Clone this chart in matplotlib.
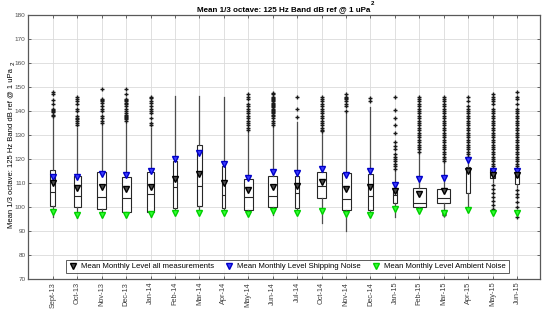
import matplotlib
matplotlib.use("Agg")
import matplotlib.pyplot as plt
from matplotlib.lines import Line2D

plt.rcParams["font.family"] = ["Liberation Sans", "DejaVu Sans"]

months = ["Sept-13", "Oct-13", "Nov-13", "Dec-13", "Jan-14", "Feb-14", "Mar-14",
          "Apr-14", "May-14", "Jun-14", "Jul-14", "Oct-14", "Nov-14", "Dec-14",
          "Jan-15", "Feb-15", "Mar-15", "Apr-15", "May-15", "Jun-15"]

q1 = [100.4, 100.0, 99.0, 98.1, 98.0, 99.7, 100.6, 99.6, 98.8, 99.9,
      99.6, 103.6, 98.8, 98.8, 101.8, 100.1, 101.5, 105.7, 111.9, 109.6]
med = [106.1, 104.6, 104.3, 103.8, 105.3, 108.2, 108.9, 104.9, 104.0, 104.4,
       106.0, 108.8, 103.5, 104.6, 105.0, 101.5, 103.6, 116.1, 113.3, 112.6]
q3 = [115.4, 113.1, 114.4, 112.6, 114.7, 119.3, 125.7, 117.1, 111.8, 112.9,
      113.1, 114.7, 114.0, 113.6, 107.1, 107.8, 107.6, 116.5, 115.7, 114.3]
whis_lo = [95.7, 95.3, 96.0, 96.0, 96.0, 98.0, 98.5, 98.0, 96.5, 96.7,
           97.0, 93.5, 90.0, 96.5, 96.0, 98.0, 98.5, 98.0, 110.5, 108.5]
whis_hi = [137.0, 133.0, 134.0, 135.0, 133.0, 146.2, 146.2, 145.7, 131.4, 133.5,
           135.5, 130.7, 139.0, 141.8, 115.0, 122.4, 118.2, 120.0, 116.5, 116.5]
box_px = [4.7, 6.7, 8.7, 9.0, 7.3, 3.7, 4.3, 3.3, 9.0, 9.0,
          4.0, 9.3, 9.0, 5.3, 3.3, 12.7, 12.7, 4.0, 5.0, 4.3]

outliers = [
    [148, 147, 144.5, 143, 141, 140.5, 140, 139.5, 138.5, 138],
    [146, 145, 144, 143, 141, 140, 138, 137, 136.5, 136, 135, 134],
    [149, 145, 144.5, 144, 143.5, 142, 141, 140, 138, 137, 136, 135],
    [149, 147, 145, 144.5, 144, 143.5, 143, 142, 141, 140, 139, 138.5, 138,
     137.5, 137, 136.5, 136],
    [146, 145.5, 144, 143.5, 142, 141, 140, 139, 137, 135, 134],
    [],
    [],
    [],
    [147, 146, 145, 143, 142, 141, 140, 139, 138, 137, 136, 135, 134, 133, 132],
    [147.5, 147, 146, 145.5, 145, 144.5, 144, 143.5, 143, 142.5, 142, 141.5,
     141, 140.5, 140, 139.5, 139, 138.5, 138, 137, 136, 135, 134],
    [146, 141, 137.5],
    [146, 145, 144, 143, 142, 141, 140, 139, 138, 137, 136, 135, 134, 133,
     132, 131.5],
    [147, 146, 145.5, 145, 144, 143, 142, 140],
    [145.5, 144],
    [146, 140.5, 137, 134, 131, 127, 125.5, 124, 122, 121, 120, 119, 118,
     117, 116],
    [146, 145, 144, 143, 142, 141, 140, 139, 138, 137, 136, 135, 134, 133,
     132, 131, 130, 129, 128, 127, 126, 125, 124, 123],
    [146, 145, 144, 143, 142, 141, 140, 139, 138, 137, 136, 135, 134, 133,
     132, 131, 130, 129, 128, 127, 126, 125, 124, 123, 122, 121, 120, 119,
     98, 97.5, 97, 96.8],
    [145.7, 144, 142, 141, 140, 139, 138, 137, 136, 135, 134, 133, 132, 131,
     130, 129, 128, 127, 126, 125, 124, 123, 122, 121],
    [147, 146, 145, 144, 143, 141, 140, 139, 138, 137, 136, 135, 134, 133,
     132, 131, 130, 129, 128, 127, 126, 125, 124, 123, 122, 121, 120, 119,
     118, 117, 109, 107.5, 106, 104, 102.5, 100.7, 99],
    [147.8, 146, 145, 143, 141, 140, 139, 138, 137, 136, 135, 134, 133, 132,
     131, 130, 129, 128, 127, 126, 125, 124, 123, 122, 121, 120, 119, 118,
     117, 107, 105.5, 104, 102, 100, 96],
]

mean_all = [109.9, 108.1, 108.5, 107.4, 108.5, 111.8, 113.8, 110.0, 107.1, 108.5,
            108.8, 110.4, 107.4, 108.5, 106.7, 105.3, 106.7, 115.0, 113.3, 113.3]
mean_ship = [112.6, 112.6, 113.9, 113.3, 115.1, 120.1, 122.4, 117.9, 112.3, 114.4,
             114.0, 115.7, 113.5, 115.0, 109.0, 111.5, 112.3, 119.6, 115.1, 115.0]
mean_amb = [97.8, 96.7, 96.7, 96.8, 97.1, 97.6, 97.6, 97.6, 97.0, 98.3,
            97.4, 98.3, 97.0, 96.8, 99.3, 98.5, 97.4, 98.75, 97.6, 97.4]

positions = list(range(1, len(months) + 1))
px_per_unit = 24.46

# marker styles: (face, edge)
black_style = dict(markerfacecolor="0.3", markeredgecolor="k")
blue_style = dict(markerfacecolor="#3c3cff", markeredgecolor="#0000c8")
green_style = dict(markerfacecolor="#33ff33", markeredgecolor="#00d000")

fig = plt.figure(figsize=(5.5, 3.14), dpi=100)
ax = fig.add_axes([0.0515, 0.1115, 0.930, 0.8405])

stats = []
for i in range(len(months)):
    stats.append(dict(med=med[i], q1=q1[i], q3=q3[i], whislo=whis_lo[i],
                      whishi=whis_hi[i], fliers=outliers[i]))

ax.bxp(stats, positions=positions,
       widths=[w / px_per_unit for w in box_px],
       showcaps=False, patch_artist=True,
       boxprops=dict(facecolor="white", edgecolor="0.15", linewidth=0.8),
       whiskerprops=dict(color="0.3", linewidth=0.9),
       medianprops=dict(color="0.15", linewidth=0.8),
       flierprops=dict(marker="+", markersize=3.5, markeredgecolor="0.1",
                       markeredgewidth=1.0, linestyle="none"))

ax.plot(positions, mean_amb, linestyle="", marker="v", markersize=5,
        markeredgewidth=1.0, zorder=4, **green_style)
ax.plot(positions, mean_ship, linestyle="", marker="v", markersize=5,
        markeredgewidth=1.0, zorder=4, **blue_style)
ax.plot(positions, mean_all, linestyle="", marker="v", markersize=5,
        markeredgewidth=1.0, zorder=5, **black_style)

ax.set_xlim(0, 20.93)
ax.set_ylim(70, 180)
ax.set_yticks(range(70, 181, 10))
ax.set_xticks(positions)
ax.set_xticklabels(months, rotation=90, fontsize=5.3, color="0.25")
ax.tick_params(axis="y", labelsize=4.6, labelcolor="0.3")
ax.tick_params(direction="in", length=2.5, width=0.6, color="0.3",
               top=True, right=True, pad=2)
ax.grid(True, color="0.86", linewidth=0.6)
ax.set_axisbelow(True)
for s in ax.spines.values():
    s.set_color("0.35")
    s.set_linewidth(0.9)

fig.text(0.515, 0.970, "Mean 1/3 octave: 125 Hz Band dB ref @ 1 uPa",
         ha="center", va="center", fontsize=5.8, fontweight="bold")
fig.text(0.678, 0.988, "2", ha="center", va="center", fontsize=4.5,
         fontweight="bold")
fig.text(0.019, 0.53, "Mean 1/3 octave: 125 Hz Band dB ref @ 1 uPa",
         rotation=90, ha="center", va="center", fontsize=5.5)
fig.text(0.024, 0.80, "2", rotation=90, ha="center", va="center",
         fontsize=4.5)

custom_legends = [
    Line2D([0], [0], linestyle="", marker="v", markersize=4.5, **black_style),
    Line2D([0], [0], linestyle="", marker="v", markersize=4.5, **blue_style),
    Line2D([0], [0], linestyle="", marker="v", markersize=4.5, **green_style),
]
leg = ax.legend(custom_legends,
                ["Mean Monthly Level all measurements",
                 "Mean Monthly Level Shipping Noise",
                 "Mean Monthly Level Ambient Noise"],
                ncol=3, loc="lower center", bbox_to_anchor=(0.506, 0.022),
                fontsize=5.6, frameon=True, fancybox=False,
                borderpad=0.35, handletextpad=0.4, columnspacing=1.4,
                handlelength=1.2, borderaxespad=0)
leg.get_frame().set_edgecolor("0.2")
leg.get_frame().set_linewidth(0.7)

fig.savefig("out.png", dpi=100)
